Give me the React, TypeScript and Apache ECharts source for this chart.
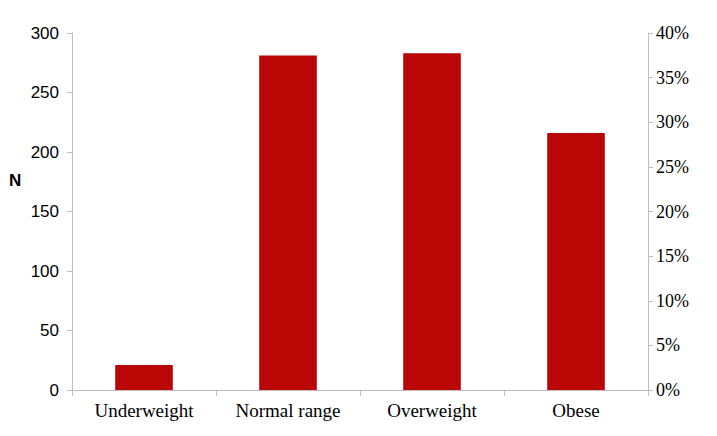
import React, { useEffect, useRef } from "react";
import * as echarts from "echarts";

const categories = ["Underweight", "Normal range", "Overweight", "Obese"];
const counts = [21, 281, 283, 216];
const leftTicks = [0, 50, 100, 150, 200, 250, 300];
const rightTicks = [0, 0.05, 0.1, 0.15, 0.2, 0.25, 0.3, 0.35, 0.4];

export default function App() {
  const ref = useRef<HTMLDivElement>(null);
  useEffect(() => {
    if (!ref.current) return;
    const chart = echarts.init(ref.current, null, { renderer: "svg" });
    const axisColor = "#BFBFBF";
    chart.setOption({
      animation: false,
      backgroundColor: "#ffffff",
      grid: { left: 64, right: 61, top: 25, bottom: 38, containLabel: false },
      graphic: [
        {
          type: "text",
          left: 1,
          top: 164,
          style: {
            text: "N",
            font: "bold 17px 'Liberation Sans', Arial, sans-serif",
            fill: "#000000",
          },
        },
      ],
      xAxis: {
        type: "category",
        data: categories,
        boundaryGap: true,
        axisLine: { show: true, lineStyle: { color: axisColor, width: 1 } },
        axisTick: { show: true, length: 6, lineStyle: { color: axisColor } },
        axisLabel: {
          color: "#000000",
          fontFamily: "'Liberation Serif', 'Times New Roman', serif",
          fontSize: 19,
          margin: 11,
        },
        splitLine: { show: false },
      },
      yAxis: [
        {
          type: "value",
          min: leftTicks[0],
          max: leftTicks[leftTicks.length - 1],
          interval: 50,
          position: "left",
          axisLine: { show: true, lineStyle: { color: axisColor } },
          axisTick: { show: true, length: 5, lineStyle: { color: axisColor } },
          axisLabel: {
            color: "#000000",
            fontFamily: "'Liberation Sans', Arial, sans-serif",
            fontSize: 17,
            margin: 13,
          },
          splitLine: { show: false },
        },
        {
          type: "value",
          min: rightTicks[0],
          max: rightTicks[rightTicks.length - 1],
          interval: 0.05,
          position: "right",
          axisLine: { show: true, lineStyle: { color: axisColor } },
          axisTick: { show: true, length: 5, lineStyle: { color: axisColor } },
          axisLabel: {
            color: "#000000",
            fontFamily: "'Liberation Serif', 'Times New Roman', serif",
            fontSize: 18,
            margin: 8,
            formatter: (v: number) => Math.round(v * 100) + "%",
          },
          splitLine: { show: false },
        },
      ],
      series: [
        {
          type: "bar",
          data: counts,
          yAxisIndex: 0,
          barWidth: "40%",
          itemStyle: { color: "#BB0606" },
        },
      ],
    });
    return () => chart.dispose();
  }, []);
  return <div ref={ref} style={{ width: 701, height: 420 }} />;
}
